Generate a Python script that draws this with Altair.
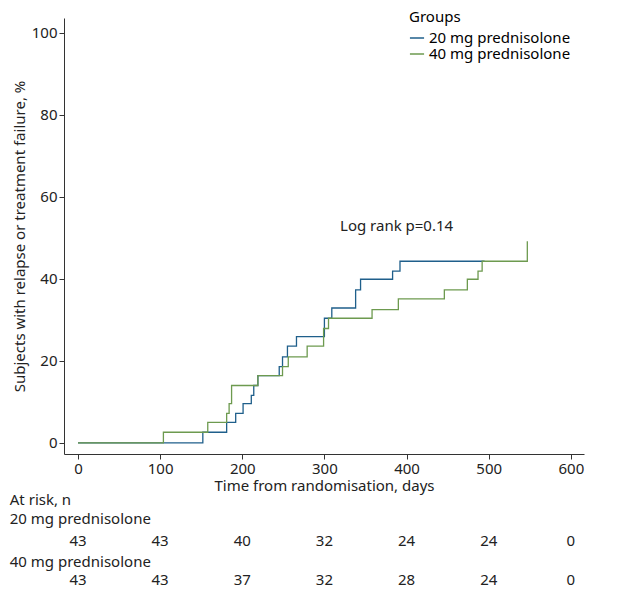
import altair as alt
import pandas as pd

groups = ["20 mg prednisolone", "40 mg prednisolone"]
days_20 = [0, 152, 181, 192, 201, 211, 214, 219, 245, 249, 255, 266, 300, 309, 338, 344, 383, 392, 495]
pct_20 = [0, 2.6, 5.0, 7.2, 9.6, 11.6, 14.0, 16.4, 18.6, 21.0, 23.6, 25.9, 30.4, 32.9, 37.3, 39.9, 41.9, 44.3, 44.3]
days_40 = [0, 104, 158, 181, 184, 187, 219, 249, 256, 279, 299, 305, 358, 390, 446, 474, 487, 492, 547, 547]
pct_40 = [0, 2.6, 5.0, 7.2, 9.6, 14.0, 16.4, 18.6, 21.0, 23.6, 27.9, 30.4, 32.5, 35.1, 37.3, 39.9, 41.9, 44.3, 44.3, 49.2]

risk_days = [0, 100, 200, 300, 400, 500, 600]
risk_20 = [43, 43, 40, 32, 24, 24, 0]
risk_40 = [43, 43, 37, 32, 28, 24, 0]

FONT = "Noto Sans"
curves = pd.DataFrame(
    [{"day": d, "pct": p, "group": groups[0], "o": i} for i, (d, p) in enumerate(zip(days_20, pct_20))]
    + [{"day": d, "pct": p, "group": groups[1], "o": i} for i, (d, p) in enumerate(zip(days_40, pct_40))]
)

xscale = alt.Scale(domain=[-17, 616], nice=False, zero=False)

lines = alt.Chart(curves).mark_line(interpolate="step-after", strokeWidth=1.3).encode(
    x=alt.X("day:Q", scale=xscale,
            axis=alt.Axis(values=risk_days, title="Time from randomisation, days", grid=False,
                          titlePadding=2)),
    y=alt.Y("pct:Q", scale=alt.Scale(domain=[-2.7, 103.6], nice=False, zero=False),
            axis=alt.Axis(values=[0, 20, 40, 60, 80, 100], grid=False,
                          title="Subjects with relapse or treatment failure, %")),
    color=alt.Color("group:N", scale=alt.Scale(domain=groups, range=["#1f5f8b", "#6d9a4f"]),
                    legend=alt.Legend(title="Groups", orient="none", legendX=345, legendY=-8,
                                      symbolType="stroke", symbolSize=200, symbolStrokeWidth=1.5,
                                      labelFontSize=15, titleFontSize=15, titleFontWeight="normal",
                                      rowPadding=0, labelOffset=4)),
    order="o:Q",
    detail="group:N",
)

logrank = alt.Chart(pd.DataFrame({"day": [319], "pct": [52.8], "t": ["Log rank p=0.14"]})).mark_text(
    align="left", baseline="middle", fontSize=15, font=FONT
).encode(x="day:Q", y="pct:Q", text="t:N")

top = (lines + logrank).properties(width=520, height=436)

rows = pd.DataFrame(
    [{"day": -83, "row": 0.4, "t": "At risk, n"},
     {"day": -83, "row": 1.4, "t": groups[0]},
     {"day": -83, "row": 3.7, "t": groups[1]}]
)
nums = pd.DataFrame(
    [{"day": d, "row": 2.6, "t": str(n)} for d, n in zip(risk_days, risk_20)]
    + [{"day": d, "row": 4.7, "t": str(n)} for d, n in zip(risk_days, risk_40)]
)
yrow = alt.Y("row:Q", scale=alt.Scale(domain=[0, 5.4], reverse=True, nice=False), axis=None)
xrow = alt.X("day:Q", scale=xscale, axis=None)
lab = alt.Chart(rows).mark_text(align="left", fontSize=15, font=FONT).encode(x=xrow, y=yrow, text="t:N")
num = alt.Chart(nums).mark_text(align="center", fontSize=15, font=FONT).encode(x=xrow, y=yrow, text="t:N")
bottom = (lab + num).properties(width=520, height=100)

chart = alt.vconcat(top, bottom, spacing=0).properties(
    padding={"left": 1, "top": 2, "right": 5, "bottom": 5}
).configure_view(stroke=None).configure_axis(
    labelFont=FONT, titleFont=FONT, labelFontSize=15, titleFontSize=15,
    labelColor="#222", titleColor="#222", domainColor="#333", tickColor="#333",
    titleFontWeight="normal", tickSize=5
).configure_legend(labelFont=FONT, titleFont=FONT).configure_text(color="#222")

chart.save("out.html", embed_options={"renderer": "svg", "actions": False})
